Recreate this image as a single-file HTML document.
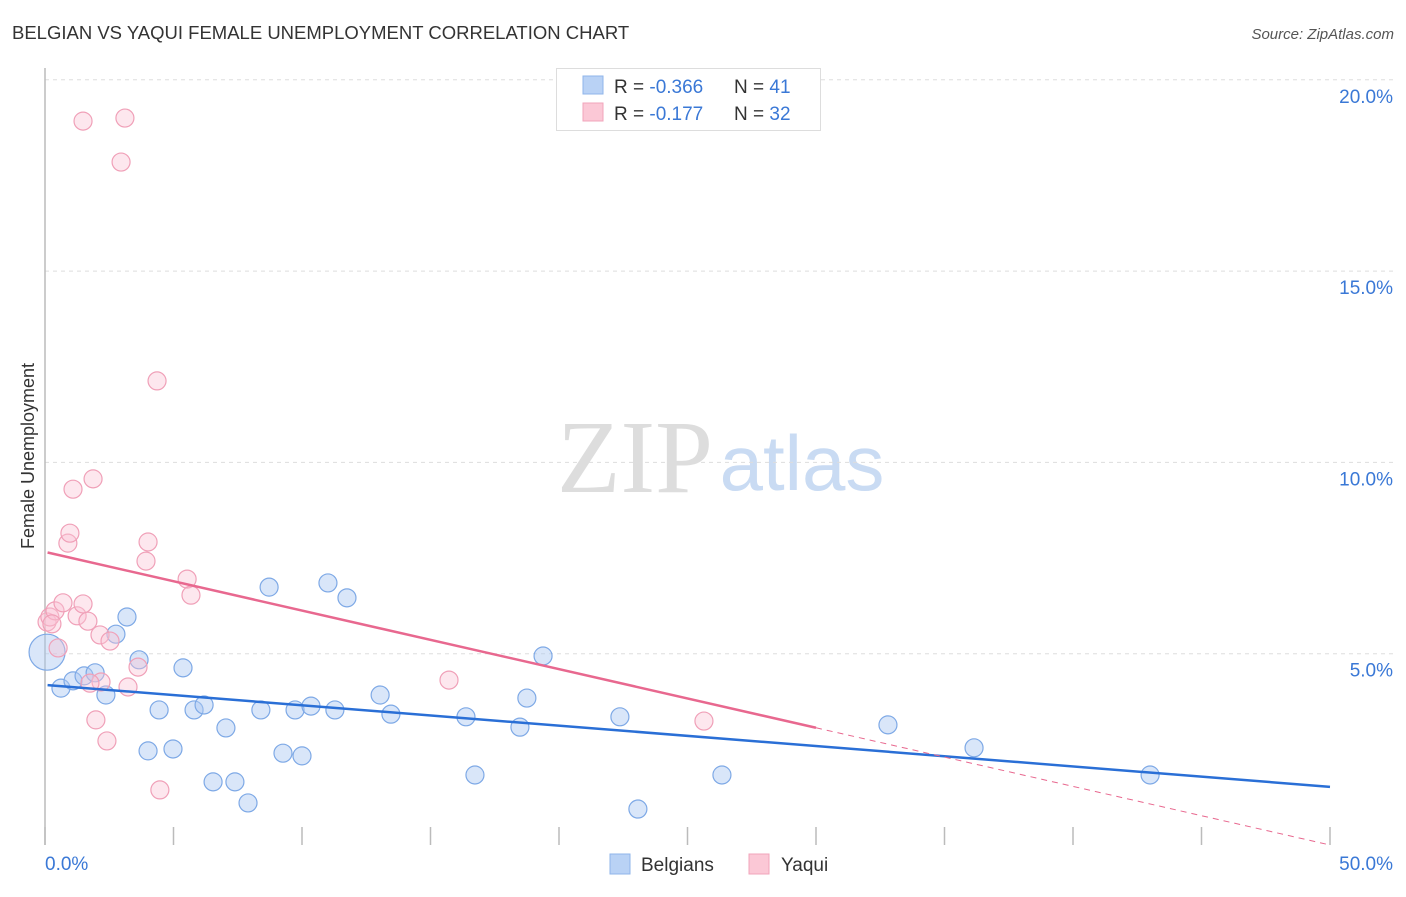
<!DOCTYPE html>
<html><head><meta charset="utf-8"><style>
body{margin:0;background:#fff;font-family:"Liberation Sans",sans-serif;}
svg text{font-family:"Liberation Sans",sans-serif;}
</style></head><body>
<svg id="chart" width="1406" height="892">
<text x="12" y="39" font-size="18.5" fill="#333">BELGIAN VS YAQUI FEMALE UNEMPLOYMENT CORRELATION CHART</text>
<text x="1394" y="39" font-size="15" fill="#555" font-style="italic" text-anchor="end">Source: ZipAtlas.com</text>
<g>
<text x="635" y="492" font-size="104" fill="#ddd" text-anchor="middle" style="font-family:'Liberation Serif',serif">ZIP</text>
<text x="802" y="490" font-size="78" fill="#c9dbf3" text-anchor="middle">atlas</text>
</g>
<text transform="translate(34,456) rotate(-90)" font-size="18" fill="#333" text-anchor="middle">Female Unemployment</text>
<g id="grid"></g><g id="axes"></g><g id="pts"></g><g id="trends"></g>
<g>
<rect x="556.5" y="68.5" width="264" height="62" fill="#fff" stroke="#ddd"/>
<rect x="583" y="76" width="20" height="18" fill="#b9d2f5" stroke="#8fb4ea"/>
<rect x="583" y="103" width="20" height="18" fill="#fbc8d6" stroke="#f2a4bb"/>
<text x="614" y="93" font-size="19" fill="#333">R = <tspan fill="#3a78d6">-0.366</tspan></text>
<text x="734" y="93" font-size="19" fill="#333">N = <tspan fill="#3a78d6"> 41</tspan></text>
<text x="614" y="120" font-size="19" fill="#333">R = <tspan fill="#3a78d6"> -0.177</tspan></text>
<text x="734" y="120" font-size="19" fill="#333">N = <tspan fill="#3a78d6">32</tspan></text>
</g>
<g>
<rect x="610" y="854" width="20" height="20" fill="#b9d2f5" stroke="#8fb4ea"/>
<text x="641" y="871" font-size="19" fill="#333">Belgians</text>
<rect x="749" y="854" width="20" height="20" fill="#fbc8d6" stroke="#f2a4bb"/>
<text x="781" y="871" font-size="19" fill="#333">Yaqui</text>
</g>
</svg>
<script>
const yTicks=[5,10,15,20];
const yTickLabels=["5.0%","10.0%","15.0%","20.0%"];
const xTickCount=10;
const belgiansX=[0.08,0.62,1.09,1.52,1.95,2.37,2.76,3.19,3.66,4.01,4.44,4.98,5.37,5.80,6.19,6.54,7.04,7.39,7.90,8.40,8.72,9.26,9.73,10.00,10.35,11.01,11.28,11.75,13.04,13.46,16.38,16.73,18.48,18.75,19.38,22.37,23.07,26.34,32.80,36.15,43.00];
const belgiansY=[5.04,4.10,4.29,4.42,4.50,3.92,5.51,5.96,4.84,2.46,3.53,2.51,4.63,3.53,3.66,1.65,3.06,1.65,1.10,3.53,6.74,2.40,3.53,2.33,3.63,6.85,3.53,6.46,3.92,3.42,3.35,1.83,3.08,3.84,4.94,3.35,0.94,1.83,3.14,2.54,1.83];
const yaquiX=[0.08,0.19,0.39,0.51,0.70,0.89,0.97,1.09,1.25,1.48,1.48,1.67,1.87,1.98,2.14,2.18,2.41,2.53,2.96,3.11,3.23,3.62,3.93,4.01,4.36,4.47,5.53,5.68,15.72,25.64,0.27,1.75];
const yaquiY=[5.83,5.96,6.12,5.15,6.33,7.89,8.15,9.30,5.99,6.30,18.92,5.85,9.57,3.27,5.49,4.26,2.72,5.33,17.85,19.00,4.13,4.65,7.42,7.92,12.13,1.44,6.95,6.53,4.31,3.24,5.78,4.23];
const belgiansTrend=[4.18,1.52];
const yaquiTrend=[7.66,0.0];
const yaquiSolidEnd=30;
const NS="http://www.w3.org/2000/svg";
function X(v){return 45+v/50*1285;}
function Y(v){return 845-v/5*191.3;}
function mk(t,a,p){const e=document.createElementNS(NS,t);for(const k in a)e.setAttribute(k,a[k]);p.appendChild(e);return e;}
const grid=document.getElementById('grid'),axes=document.getElementById('axes');
yTicks.forEach((t,i)=>{
 const l=mk('line',{x1:45,x2:1394,y1:Y(t),y2:Y(t),stroke:'#ddd','stroke-dasharray':'4,4'},grid);
 
 
 const tx=mk('text',{x:1393,y:Y(t)+23,'font-size':19,fill:'#3a78d6','text-anchor':'end'},axes);
 tx.textContent=yTickLabels[i];
 
 
});
const ax=mk('line',{x1:45,x2:45,y1:68,y2:845,stroke:'#bbb','stroke-width':1.5},axes);


for(let i=0;i<=xTickCount;i++){
 const v=50*i/xTickCount;
 const t=mk('line',{x1:X(v),x2:X(v),y1:827,y2:845,stroke:'#bbb','stroke-width':1.5},axes);
 
 
}
const xl0=mk('text',{x:45,y:870,'font-size':19,fill:'#3a78d6'},axes);xl0.textContent="0.0%";


const xl1=mk('text',{x:1393,y:870,'font-size':19,fill:'#3a78d6','text-anchor':'end'},axes);xl1.textContent="50.0%";


const pts=document.getElementById('pts');
belgiansX.forEach((x,i)=>{
 const c=mk('circle',{cx:X(x),cy:Y(belgiansY[i]),r:i===0?18:9,fill:'rgba(170,200,242,0.45)',stroke:'#7ea9e6','stroke-width':1.2},pts);
 
 
});
yaquiX.forEach((x,i)=>{
 const c=mk('circle',{cx:X(x),cy:Y(yaquiY[i]),r:9,fill:'rgba(250,195,212,0.4)',stroke:'#f0a0b8','stroke-width':1.2},pts);
 
 
});
const tr=document.getElementById('trends');
const bl=mk('line',{x1:X(0.1),y1:Y(belgiansTrend[0]),x2:X(50),y2:Y(belgiansTrend[1]),stroke:'#2a6fd6','stroke-width':2.5},tr);


const ys=v=>yaquiTrend[0]+(yaquiTrend[1]-yaquiTrend[0])*v/50;
const pl=mk('line',{x1:X(0.1),y1:Y(ys(0.1)),x2:X(yaquiSolidEnd),y2:Y(ys(yaquiSolidEnd)),stroke:'#e8688f','stroke-width':2.5},tr);


const pd=mk('line',{x1:X(yaquiSolidEnd),y1:Y(ys(yaquiSolidEnd)),x2:X(50),y2:Y(ys(50)),stroke:'#e8688f','stroke-width':1,'stroke-dasharray':'6,5'},tr);


</script>
</body></html>
